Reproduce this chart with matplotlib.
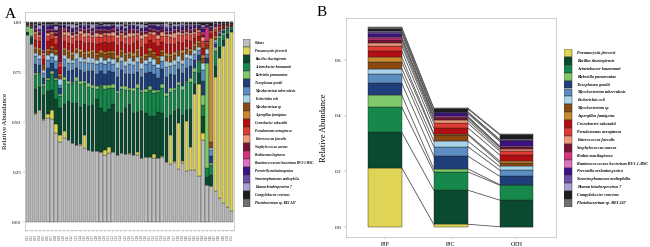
import numpy as np
import matplotlib
matplotlib.use("Agg")
import matplotlib.pyplot as plt
from matplotlib.patches import Rectangle

plt.rcParams['font.family'] = ['Liberation Serif', 'DejaVu Serif']

# ---- data ----
species = ['Others', 'Pneumocystis jirovecii', 'Bacillus thuringiensis', 'Acinetobacter baumannii',
           'Klebsiella pneumoniae', 'Toxoplasma gondii', 'Mycobacterium tuberculosis', 'Escherichia coli',
           'Mycobacterium sp', 'Aspergillus fumigatus', 'Cronobacter sakazakii', 'Pseudomonas aeruginosa',
           'Enterococcus faecalis', 'Staphylococcus aureus', 'Rothia mucilaginosa',
           'Ruminococcaceae bacterium BV3-1-BSC', 'Prevotella melaninogenica',
           'Stenotrophomonas maltophilia', 'Human betaherpesvirus 7', 'Campylobacter concisus',
           'Photobacterium sp. BEI 247']
colors = ['#BEBEBE', '#E0D456', '#0A4A2E', '#17884B', '#80C96B', '#1F3F7A', '#5B8DC2', '#A9D4EA',
          '#8A4A10', '#C98A30', '#B50E12', '#DE3B33', '#F39A7C', '#7A1233', '#D4347D', '#DD72C2',
          '#3D1186', '#6C50A8', '#A9A0D2', '#1C1C1C', '#707070']

samples = ['C%02d' % (i + 1) for i in range(51)]

others = [0.935, 0.895, 0.59, 0.59, 0.55, 0.535, 0.52, 0.47, 0.445, 0.435, 0.42, 0.41, 0.40, 0.40, 0.39,
          0.37, 0.36, 0.36, 0.355, 0.35, 0.35, 0.348, 0.345, 0.343, 0.34, 0.338, 0.335, 0.333, 0.33, 0.328,
          0.325, 0.322, 0.32, 0.318, 0.30, 0.297, 0.29, 0.285, 0.28, 0.275, 0.27, 0.26, 0.25, 0.235, 0.21,
          0.19, 0.17, 0.13, 0.10, 0.08, 0.055]
pj = [0, 0, 0.005, 0, 0.003, 0.02, 0.045, 0.05, 0.04, 0.035, 0, 0.003, 0, 0.005, 0.07, 0, 0.003, 0, 0,
      0.025, 0.03, 0, 0.003, 0, 0, 0.005, 0, 0.015, 0, 0.003, 0, 0.02, 0, 0.005, 0, 0.15, 0.005, 0.25,
      0.01, 0.27, 0.12, 0.38, 0.50, 0.02, 0, 0, 0.62, 0.75, 0.83, 0.88, 0.92]
bac = [0.015, 0.03, 0.13, 0.12, 0.13, 0.12, 0.10, 0.13, 0.15, 0.14, 0.20, 0.21, 0.22, 0.19, 0.16, 0.22,
       0.23, 0.26, 0.22, 0.20, 0.19, 0.24, 0.22, 0.20, 0.23, 0.25, 0.21, 0.20, 0.24, 0.22, 0.20, 0.19,
       0.23, 0.21, 0.22, 0.10, 0.24, 0.08, 0.22, 0.06, 0.20, 0.05, 0.06, 0.05, 0.05, 0.06, 0.06, 0.06,
       0.03, 0.02, 0.01]
acin = [0.0, 0.01, 0.08, 0.07, 0.05, 0.06, 0.08, 0.10, 0.07, 0.12, 0.09, 0.10, 0.11, 0.12, 0.11, 0.10,
        0.09, 0.05, 0.11, 0.12, 0.11, 0.08, 0.10, 0.12, 0.09, 0.07, 0.11, 0.12, 0.10, 0.11, 0.13, 0.12,
        0.10, 0.12, 0.11, 0.12, 0.10, 0.13, 0.12, 0.15, 0.14, 0.06, 0.06, 0.03, 0.05, 0.05, 0.08, 0.05,
        0.03, 0.02, 0.01]
kleb = [0.03, 0.04, 0.01, 0.005, 0.01, 0.01, 0.015, 0.01, 0.012, 0.02, 0.015, 0.01, 0.02, 0.015, 0.01,
        0.02, 0.012, 0.015, 0.01, 0.02, 0.015, 0.02, 0.01, 0.015, 0.02, 0.01, 0.015, 0.02, 0.01, 0.015,
        0.02, 0.015, 0.01, 0.02, 0.015, 0.02, 0.01, 0.015, 0.02, 0.01, 0.02, 0.02, 0.01, 0.03, 0.60, 0.01,
        0.02, 0.01, 0.01, 0.005, 0.005]
toxo = [0.002, 0.002, 0.05, 0.04, 0.03, 0.05, 0.04, 0.05, 0.03, 0.05, 0.05, 0.06, 0.05, 0.06, 0.05, 0.06,
        0.07, 0.06, 0.07, 0.06, 0.07, 0.06, 0.07, 0.08, 0.06, 0.07, 0.07, 0.06, 0.07, 0.08, 0.07, 0.08,
        0.06, 0.07, 0.08, 0.07, 0.06, 0.07, 0.06, 0.07, 0.06, 0.04, 0.03, 0.04, 0.03, 0.04, 0.02, 0.01,
        0.01, 0.005, 0.003]
mtb = [0.002, 0.003, 0.04, 0.035, 0.03, 0.04, 0.03, 0.04, 0.02, 0.04, 0.04, 0.035, 0.045, 0.04, 0.05,
       0.04, 0.045, 0.05, 0.04, 0.05, 0.045, 0.04, 0.05, 0.045, 0.04, 0.05, 0.045, 0.05, 0.04, 0.045,
       0.05, 0.045, 0.05, 0.04, 0.05, 0.045, 0.05, 0.04, 0.045, 0.05, 0.04, 0.03, 0.03, 0.03, 0.02, 0.03,
       0.01, 0.005, 0.005, 0.003, 0.002]
ecoli = [0.001, 0.002, 0.02, 0.02, 0.015, 0.025, 0.02, 0.03, 0.03, 0.02, 0.025, 0.02, 0.03, 0.025, 0.02,
         0.03, 0.025, 0.02, 0.03, 0.025, 0.02, 0.025, 0.03, 0.02, 0.025, 0.03, 0.02, 0.025, 0.03, 0.02,
         0.025, 0.03, 0.02, 0.025, 0.03, 0.02, 0.025, 0.03, 0.02, 0.025, 0.02, 0.02, 0.015, 0.02, 0.03,
         0.01, 0.01, 0.005, 0.003, 0.002, 0.001]
myco = [0.001, 0.002, 0.02, 0.025, 0.02, 0.02, 0.025, 0.02, 0.02, 0.025, 0.03, 0.025, 0.02, 0.03, 0.025,
        0.02, 0.03, 0.025, 0.02, 0.03, 0.025, 0.03, 0.02, 0.025, 0.03, 0.02, 0.025, 0.03, 0.025, 0.02,
        0.03, 0.025, 0.03, 0.02, 0.025, 0.03, 0.025, 0.02, 0.03, 0.025, 0.02, 0.02, 0.02, 0.015, 0.01,
        0.03, 0.01, 0.005, 0.005, 0.003, 0.002]
asperg = [0.001, 0.001, 0.01, 0.01, 0.008, 0.012, 0.01, 0.01, 0.008, 0.012, 0.01, 0.012, 0.01, 0.015,
          0.01, 0.012, 0.01, 0.015, 0.012, 0.01, 0.012, 0.01, 0.015, 0.01, 0.012, 0.01, 0.015, 0.01,
          0.012, 0.01, 0.015, 0.01, 0.012, 0.01, 0.015, 0.01, 0.012, 0.01, 0.015, 0.01, 0.01, 0.01, 0.01,
          0.01, 0.005, 0.55, 0.01, 0.005, 0.003, 0.002, 0.001]
crono = [0.002, 0.003, 0.04, 0.035, 0.03, 0.04, 0.035, 0.03, 0.04, 0.035, 0.04, 0.045, 0.035, 0.04,
         0.05, 0.04, 0.035, 0.045, 0.04, 0.05, 0.04, 0.045, 0.05, 0.04, 0.045, 0.035, 0.05, 0.04, 0.045,
         0.05, 0.04, 0.045, 0.05, 0.04, 0.045, 0.05, 0.04, 0.045, 0.035, 0.04, 0.04, 0.03, 0.03, 0.02,
         0.01, 0.02, 0.02, 0.01, 0.008, 0.005, 0.003]
pseudo = [0.002, 0.002, 0.03, 0.025, 0.02, 0.03, 0.025, 0.03, 0.02, 0.03, 0.035, 0.03, 0.025, 0.035,
          0.03, 0.04, 0.03, 0.035, 0.03, 0.04, 0.035, 0.03, 0.04, 0.035, 0.03, 0.04, 0.035, 0.03, 0.04,
          0.035, 0.03, 0.04, 0.035, 0.03, 0.04, 0.035, 0.03, 0.04, 0.035, 0.03, 0.03, 0.02, 0.02, 0.02,
          0.01, 0.01, 0.02, 0.01, 0.005, 0.004, 0.003]
entero = [0.001, 0.001, 0.015, 0.01, 0.01, 0.015, 0.01, 0.015, 0.01, 0.015, 0.02, 0.015, 0.01, 0.015,
          0.02, 0.015, 0.01, 0.02, 0.015, 0.01, 0.015, 0.02, 0.015, 0.01, 0.015, 0.02, 0.015, 0.01, 0.02,
          0.015, 0.01, 0.015, 0.02, 0.015, 0.01, 0.015, 0.02, 0.015, 0.01, 0.015, 0.015, 0.01, 0.01, 0.01,
          0.005, 0.005, 0.01, 0.005, 0.003, 0.002, 0.002]
staph = [0.001, 0.001, 0.01, 0.008, 0.01, 0.01, 0.008, 0.01, 0.18, 0.01, 0.008, 0.01, 0.012, 0.008, 0.01,
         0.012, 0.008, 0.01, 0.012, 0.01, 0.008, 0.012, 0.01, 0.008, 0.01, 0.012, 0.01, 0.008, 0.012,
         0.01, 0.01, 0.008, 0.012, 0.01, 0.008, 0.01, 0.012, 0.01, 0.008, 0.012, 0.01, 0.01, 0.008, 0.008,
         0.005, 0.005, 0.005, 0.003, 0.002, 0.002, 0.001]
rothia = [0.001, 0.001, 0.005, 0.005, 0.004, 0.006, 0.005, 0.004, 0.005, 0.006, 0.005, 0.004, 0.006,
          0.005, 0.004, 0.006, 0.005, 0.004, 0.006, 0.005, 0.004, 0.006, 0.005, 0.004, 0.006, 0.005,
          0.004, 0.006, 0.005, 0.004, 0.006, 0.005, 0.004, 0.006, 0.005, 0.004, 0.006, 0.005, 0.004,
          0.006, 0.005, 0.005, 0.004, 0.004, 0.08, 0.004, 0.003, 0.002, 0.002, 0.001, 0.001]
rumino = [0.001, 0.001, 0.004, 0.005, 0.003, 0.004, 0.005, 0.004, 0.003, 0.005, 0.004, 0.005, 0.004,
          0.003, 0.005, 0.004, 0.005, 0.003, 0.004, 0.005, 0.004, 0.003, 0.005, 0.004, 0.005, 0.003,
          0.004, 0.005, 0.004, 0.003, 0.005, 0.004, 0.005, 0.003, 0.004, 0.005, 0.004, 0.003, 0.005,
          0.004, 0.004, 0.004, 0.003, 0.003, 0.003, 0.003, 0.002, 0.002, 0.001, 0.001, 0.001]
prevo = [0.001, 0.002, 0.01, 0.008, 0.13, 0.01, 0.012, 0.008, 0.01, 0.012, 0.01, 0.014, 0.01, 0.012,
         0.015, 0.01, 0.012, 0.014, 0.01, 0.012, 0.015, 0.01, 0.012, 0.014, 0.01, 0.012, 0.015, 0.01,
         0.012, 0.014, 0.01, 0.012, 0.015, 0.01, 0.012, 0.014, 0.01, 0.012, 0.015, 0.01, 0.012, 0.01,
         0.01, 0.01, 0.005, 0.005, 0.005, 0.003, 0.002, 0.002, 0.001]
steno = [0.001, 0.001, 0.006, 0.005, 0.006, 0.007, 0.005, 0.006, 0.007, 0.005, 0.006, 0.007, 0.005,
         0.006, 0.007, 0.005, 0.006, 0.007, 0.005, 0.006, 0.007, 0.005, 0.006, 0.007, 0.005, 0.006,
         0.007, 0.005, 0.006, 0.007, 0.005, 0.006, 0.007, 0.005, 0.006, 0.007, 0.005, 0.006, 0.007,
         0.005, 0.006, 0.005, 0.005, 0.005, 0.004, 0.004, 0.003, 0.002, 0.002, 0.001, 0.001]
human = [0.001, 0.001, 0.008, 0.02, 0.006, 0.01, 0.008, 0.02, 0.006, 0.008, 0.01, 0.02, 0.008, 0.006,
         0.01, 0.008, 0.02, 0.008, 0.006, 0.01, 0.008, 0.006, 0.02, 0.01, 0.008, 0.006, 0.008, 0.01,
         0.02, 0.008, 0.006, 0.008, 0.01, 0.008, 0.02, 0.006, 0.008, 0.01, 0.008, 0.006, 0.008, 0.006,
         0.006, 0.005, 0.004, 0.004, 0.003, 0.002, 0.002, 0.001, 0.001]
campy = [0.001, 0.001, 0.005, 0.004, 0.006, 0.005, 0.004, 0.005, 0.006, 0.005, 0.004, 0.005, 0.006,
         0.005, 0.004, 0.005, 0.006, 0.005, 0.004, 0.005, 0.006, 0.005, 0.004, 0.005, 0.006, 0.005,
         0.004, 0.005, 0.006, 0.005, 0.004, 0.005, 0.006, 0.005, 0.004, 0.005, 0.006, 0.005, 0.004,
         0.005, 0.006, 0.005, 0.005, 0.005, 0.01, 0.02, 0.004, 0.003, 0.002, 0.002, 0.001]
photo = [0.003, 0.004, 0.004, 0.012, 0.004, 0.003, 0.004, 0.015, 0.004, 0.003, 0.004, 0.004, 0.012,
         0.004, 0.003, 0.004, 0.004, 0.003, 0.012, 0.004, 0.004, 0.003, 0.004, 0.004, 0.015, 0.004,
         0.003, 0.004, 0.004, 0.012, 0.004, 0.003, 0.004, 0.004, 0.003, 0.012, 0.004, 0.004, 0.003,
         0.004, 0.004, 0.003, 0.004, 0.004, 0.003, 0.003, 0.002, 0.002, 0.002, 0.001, 0.001]

groups = ['PJP', 'PJC', 'OTH']
g_pj = [0.213, 0.010, 0.001]
g_bac = [0.128, 0.123, 0.096]
g_acin = [0.090, 0.066, 0.054]
g_kleb = [0.044, 0.011, 0.002]
g_toxo = [0.043, 0.046, 0.030]
g_mtb = [0.033, 0.034, 0.022]
g_ecoli = [0.020, 0.020, 0.014]
g_myco = [0.024, 0.023, 0.012]
g_asperg = [0.017, 0.003, 0.007]
g_crono = [0.023, 0.022, 0.022]
g_pseudo = [0.018, 0.017, 0.014]
g_entero = [0.010, 0.010, 0.007]
g_staph = [0.011, 0.007, 0.007]
g_rothia = [0.006, 0.005, 0.002]
g_rumino = [0.005, 0.002, 0.002]
g_prevo = [0.011, 0.010, 0.017]
g_steno = [0.007, 0.004, 0.005]
g_human = [0.004, 0.003, 0.002]
g_campy = [0.007, 0.010, 0.017]
g_photo = [0.005, 0.003, 0.002]

# %%
A = np.array([others, pj, bac, acin, kleb, toxo, mtb, ecoli, myco, asperg, crono, pseudo, entero,
              staph, rothia, rumino, prevo, steno, human, campy, photo], dtype=float)
A = A / A.sum(axis=0)  # relative abundance per sample
B = np.array([g_pj, g_bac, g_acin, g_kleb, g_toxo, g_mtb, g_ecoli, g_myco, g_asperg, g_crono, g_pseudo,
              g_entero, g_staph, g_rothia, g_rumino, g_prevo, g_steno, g_human, g_campy, g_photo])

W, H = 650, 247
fig = plt.figure(figsize=(6.5, 2.47), dpi=100)


def box(x0, y0, x1, y1):
    return [x0 / W, 1 - y1 / H, (x1 - x0) / W, (y1 - y0) / H]


frame_col = '#C8C8C8'

# ---- panel A ----
axA = fig.add_axes(box(25, 12, 234, 230))
xs = np.arange(len(samples))
bottom = np.zeros(len(samples))
for k in range(len(species)):
    axA.bar(xs, A[k], bottom=bottom, width=0.82, color=colors[k], edgecolor='#222222', linewidth=0.25)
    bottom += A[k]
axA.set_xlim(-0.6, len(samples) - 0.4)
axA.set_ylim(-0.04, 1.05)
axA.set_yticks([0, 0.25, 0.5, 0.75, 1.0])
axA.set_yticklabels(['0.00', '0.25', '0.50', '0.75', '1.00'], fontsize=3.6)
axA.set_xticks(xs)
axA.set_xticklabels(samples, rotation=90, fontsize=2.6, color='#444444')
axA.tick_params(length=1.2, width=0.3, pad=1.5, color='#888888')
axA.set_ylabel('Relative Abundance', fontsize=5, labelpad=3)
for s in axA.spines.values():
    s.set_color(frame_col)
    s.set_linewidth(0.6)
fig.text(5 / W, 1 - 14 / H, 'A', fontsize=11, va='center')

# legend A
lgA = fig.add_axes(box(243, 39, 320, 207))
lgA.set_xlim(0, 77)
lgA.set_ylim(len(species), 0)
lgA.axis('off')
for k, name in enumerate(species):
    lgA.add_patch(Rectangle((0, k), 7, 1, facecolor=colors[k], edgecolor='#333333', linewidth=0.35))
    style = 'normal' if name == 'Others' else 'italic'
    lgA.text(12, k + 0.5, name, fontsize=2.4, style=style, weight='bold', va='center')

# ---- panel B ----
axB = fig.add_axes(box(346, 18, 556, 237))
xb = np.arange(len(groups))
wb = 0.515
bot = np.zeros(len(groups))
tops = []
for k in range(B.shape[0]):
    axB.bar(xb, B[k], bottom=bot, width=wb, color=colors[k + 1], edgecolor='#222222', linewidth=0.3)
    bot = bot + B[k]
    tops.append(bot.copy())
for t in tops:
    for i in range(len(groups) - 1):
        axB.plot([xb[i] + wb / 2, xb[i + 1] - wb / 2], [t[i], t[i + 1]], color='#555555', lw=0.6)
axB.set_xlim(-0.59, 2.6)
axB.set_ylim(-0.036, 0.753)
axB.set_yticks([0, 0.2, 0.4, 0.6])
axB.set_yticklabels(['0.0', '0.2', '0.4', '0.6'], fontsize=3.8)
axB.set_xticks(xb)
axB.set_xticklabels(groups, fontsize=4.2)
axB.tick_params(length=1.5, width=0.3, pad=2, color='#888888')
axB.set_ylabel('Relative Abundance', fontsize=6, labelpad=5)
for s in axB.spines.values():
    s.set_color(frame_col)
    s.set_linewidth(0.6)
fig.text(322 / W, 1 - 13 / H, 'B', fontsize=11, va='center', ha='center')

# legend B
lgB = fig.add_axes(box(564, 49, 645, 207))
lgB.set_xlim(0, 81)
lgB.set_ylim(len(species) - 1, 0)
lgB.axis('off')
for k, name in enumerate(species[1:]):
    lgB.add_patch(Rectangle((0, k), 8, 1, facecolor=colors[k + 1], edgecolor='#333333', linewidth=0.35))
    lgB.text(13, k + 0.5, name, fontsize=2.95, style='italic', weight='bold', va='center')

fig.savefig('out.png', dpi=100)
